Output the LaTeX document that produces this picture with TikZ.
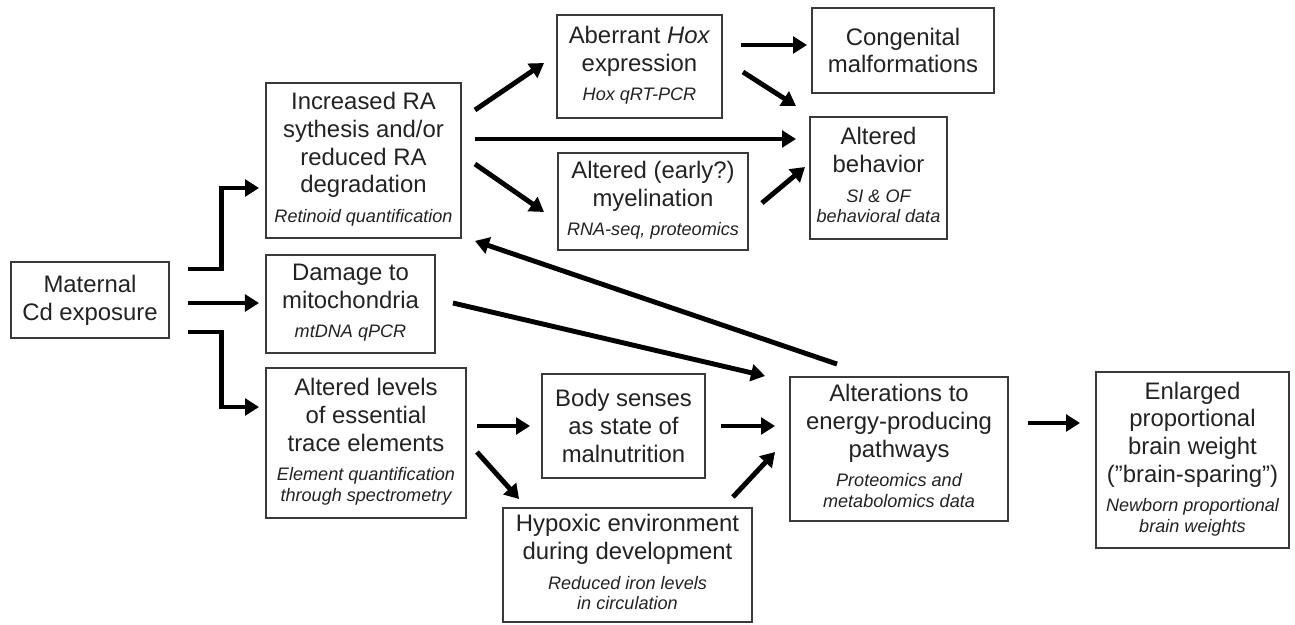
\documentclass[tikz,border=0pt]{standalone}
\usepackage{fontspec}
\setmainfont{Liberation Sans}
\usetikzlibrary{arrows.meta,calc}
\definecolor{boxgray}{HTML}{3A3A3A}
\definecolor{txtgray}{HTML}{222222}
\newcommand{\mainfont}{\fontsize{13.6}{15.8}\selectfont}
\newcommand{\methfont}{\fontsize{10.3}{11.6}\selectfont\itshape}
\newcommand{\meth}[1]{{\methfont\begin{tabular}[t]{@{}c@{}}#1\end{tabular}}}
\begin{document}
\begin{tikzpicture}[x=0.02cm,y=-0.02cm,
  box/.style={draw=boxgray,line width=1.1pt,align=center,inner sep=0pt,
    text=txtgray,font=\mainfont},
  arr/.style={line width=2.8pt,-{Triangle[length=8pt,width=9.5pt]}}]
\useasboundingbox (0,0) rectangle (1295,625);
% boxes
\node[box,minimum width=3.16cm,minimum height=1.52cm] (mat) at (90,300) {Maternal\\Cd exposure};
\node[box,minimum width=3.9cm,minimum height=3.1cm] (ra) at (363.5,160.5)
  {Increased RA\\sythesis and/or\\reduced RA\\degradation\\[1pt]\meth{Retinoid quantification}};
\node[box,minimum width=3.38cm,minimum height=1.96cm] (mito) at (350.5,304)
  {Damage to\\mitochondria\\[1pt]\meth{mtDNA qPCR}};
\node[box,minimum width=4.0cm,minimum height=3.0cm] (trace) at (366,443)
  {Altered levels\\of essential\\trace elements\\[1pt]\meth{Element quantification\\through spectrometry}};
\node[box,minimum width=3.3cm,minimum height=2.06cm] (hox) at (639.5,66.5)
  {Aberrant \textit{Hox}\\expression\\[1pt]\meth{Hox qRT-PCR}};
\node[box,minimum width=3.8cm,minimum height=1.94cm] (myel) at (653,201.5)
  {Altered (early?)\\myelination\\[1pt]\meth{RNA-seq, proteomics}};
\node[box,minimum width=3.64cm,minimum height=1.7cm] (cong) at (903,50.5)
  {Congenital\\malformations};
\node[box,minimum width=2.74cm,minimum height=2.44cm] (behav) at (878.5,178)
  {Altered\\behavior\\[1pt]\meth{SI \& OF\\behavioral data}};
\node[box,minimum width=3.26cm,minimum height=2.08cm] (body) at (623.5,426)
  {Body senses\\as state of\\malnutrition};
\node[box,minimum width=4.98cm,minimum height=2.28cm] (hypox) at (627.5,565)
  {Hypoxic environment\\during development\\[1pt]\meth{Reduced iron levels\\in circulation}};
\node[box,minimum width=4.36cm,minimum height=2.88cm] (energy) at (899,449)
  {Alterations to\\energy-producing\\pathways\\[1pt]\meth{Proteomics and\\metabolomics data}};
\node[box,minimum width=3.86cm,minimum height=3.52cm] (brain) at (1192.5,460)
  {Enlarged\\proportional\\brain weight\\(”brain-sparing”)\\[1pt]\meth{Newborn proportional\\brain weights}};
% arrows
\draw[arr] ($(mat.east)+(18,-31)$) -| ($(ra.west)+(-44,27.5)$) -- ($(ra.west)+(-6,27.5)$);
\draw[arr] ($(mat.east)+(18,3)$) -- ($(mito.west)+(-6,-1)$);
\draw[arr] ($(mat.east)+(18,32)$) -| ($(trace.west)+(-44,-36)$) -- ($(trace.west)+(-6,-36)$);
\draw[arr] ($(ra.east)+(13,-50.5)$) -- ($(hox.west)+(-12,-3.5)$);
\draw[arr] ($(ra.east)+(13,-21.5)$) -- ($(behav.west)+(-13,-39)$);
\draw[arr] ($(ra.east)+(13,3.5)$) -- ($(myel.west)+(-13,10.5)$);
\draw[arr] ($(hox.east)+(18,-21.5)$) -- ($(cong.west)+(-4,-5.5)$);
\draw[arr] ($(hox.east)+(20,5.5)$) -- ($(behav.north west)+(-13,-10)$);
\draw[arr] ($(myel.east)+(13,1.5)$) -- ($(behav.west)+(-4,-11)$);
\draw[arr] ($(energy.north)+(-62,-12)$) -- ($(ra.south east)+(13,2)$);
\draw[arr] ($(mito.east)+(17,-1)$) -- ($(energy.west)+(-24,-73)$);
\draw[arr] ($(trace.east)+(10,-17)$) -- ($(body.west)+(-11,0)$);
\draw[arr] ($(trace.east)+(10,9)$) -- ($(hypox.north west)+(17,-8)$);
\draw[arr] ($(body.east)+(15,0)$) -- ($(energy.west)+(-14,-23)$);
\draw[arr] ($(hypox.north east)+(-20,-10)$) -- ($(energy.west)+(-14,3)$);
\draw[arr] ($(energy.east)+(19,-26)$) -- ($(brain.west)+(-15,-37)$);
\end{tikzpicture}
\end{document}
